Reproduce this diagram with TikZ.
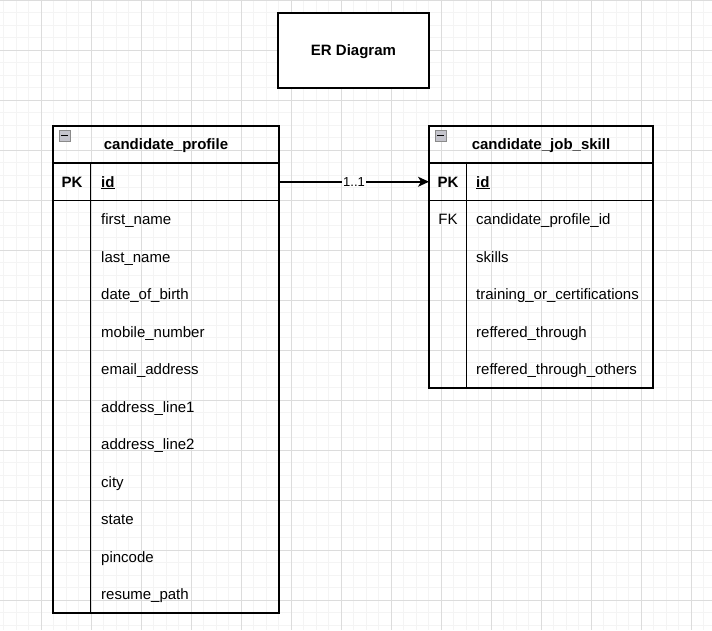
\documentclass[tikz,border=0pt]{standalone}
\usepackage{fontspec}
\setmainfont{Liberation Sans}
\usepackage{tikz}
\usetikzlibrary{arrows.meta,positioning}
\definecolor{gridminor}{HTML}{F4F4F4}
\definecolor{gridmajor}{HTML}{DCDCDC}
\definecolor{iconfill}{HTML}{C4C4CC}
\definecolor{iconline}{HTML}{8A8A8A}

\tikzset{
	cell/.style={draw=black, line width=1.5pt, inner sep=0pt, outer sep=0pt, anchor=north west},
	attr/.style={inner sep=0pt, anchor=base west, font=\fontsize{15}{18}\selectfont},
	keyattr/.style={inner sep=0pt, anchor=base, font=\fontsize{15}{18}\selectfont},
	headtext/.style={inner sep=0pt, anchor=base, font=\fontsize{15}{18}\selectfont\bfseries},
	collapse/.style={draw=iconline, fill=iconfill, line width=0.8pt, minimum size=11pt, inner sep=0pt,
		path picture={\draw[black, line width=1.6pt] ([xshift=2pt]path picture bounding box.west) -- ([xshift=-2pt]path picture bounding box.east);}},
	rel/.style={line width=1.5pt, -{Stealth[length=11pt, width=10pt, inset=3pt]}},
	card/.style={fill=white, inner sep=1pt, font=\fontsize{13}{15}\selectfont}
}

\begin{document}
\begin{tikzpicture}[x=1pt, y=-1pt]
	\useasboundingbox (0,0) rectangle (712,630);

	% grid
	\foreach \gx in {3.5,16,...,712}
		\draw[gridminor, line width=1pt] (\gx,0) -- (\gx,630);
	\foreach \gy in {0,12.5,...,630}
		\draw[gridminor, line width=1pt] (0,\gy) -- (712,\gy);
	\foreach \gx in {41,91,...,712}
		\draw[gridmajor, line width=1pt] (\gx,0) -- (\gx,630);
	\foreach \gy in {0,50,...,630}
		\draw[gridmajor, line width=1pt] (0,\gy) -- (712,\gy);

	% title
	\node[cell, fill=white, minimum width=151pt, minimum height=75pt] (title) at (278,13) {};
	\node[headtext] (titletext) at (353.5,55.5) {ER Diagram};

	% candidate_profile table
	\node[cell, minimum width=226pt, minimum height=37pt] (profile) at (53,126) {};
	\node[cell, minimum width=226pt, minimum height=37.5pt] (profilepk) at (profile.south west) {};
	\node[cell, minimum width=226pt, minimum height=412.5pt] (profilebody) at (profilepk.south west) {};
	\draw[line width=1.5pt] ([xshift=37.5pt]profilepk.north west) -- ([xshift=37.5pt]profilebody.south west);
	\node[collapse] (profileicon) at (64.5,135.5) {};
	\node[headtext] (profiletitle) at (166,149.5) {candidate\_profile};
	\node[headtext] (profilepkkey) at (72,187) {PK};
	\node[attr, font=\fontsize{15}{18}\selectfont\bfseries] (profileid) at (101,187) {\underline{id}};
	\foreach \name [count=\i] in {first\_name, last\_name, date\_of\_birth, mobile\_number,
		email\_address, address\_line1, address\_line2, city, state, pincode, resume\_path}
		\node[attr] (profilerow\i) at (101,{224.5+37.5*(\i-1)}) {\name};

	% candidate_job_skill table
	\node[cell, minimum width=224pt, minimum height=37pt] (skill) at (429,126) {};
	\node[cell, minimum width=224pt, minimum height=37.5pt] (skillpk) at (skill.south west) {};
	\node[cell, minimum width=224pt, minimum height=187.5pt] (skillbody) at (skillpk.south west) {};
	\draw[line width=1.5pt] ([xshift=37.5pt]skillpk.north west) -- ([xshift=37.5pt]skillbody.south west);
	\node[collapse] (skillicon) at (440.5,135.5) {};
	\node[headtext] (skilltitle) at (541,149.5) {candidate\_job\_skill};
	\node[headtext] (skillpkkey) at (448,187) {PK};
	\node[attr, font=\fontsize{15}{18}\selectfont\bfseries] (skillid) at (476,187) {\underline{id}};
	\node[keyattr] (skillfkkey) at (448,224.5) {FK};
	\foreach \name [count=\i] in {candidate\_profile\_id, skills, training\_or\_certifications,
		reffered\_through, reffered\_through\_others}
		\node[attr] (skillrow\i) at (476,{224.5+37.5*(\i-1)}) {\name};

	% relation
	\draw[rel] (profilepk.east) -- node[card] (relcard) {1..1} (skillpk.west);

\end{tikzpicture}
\end{document}
